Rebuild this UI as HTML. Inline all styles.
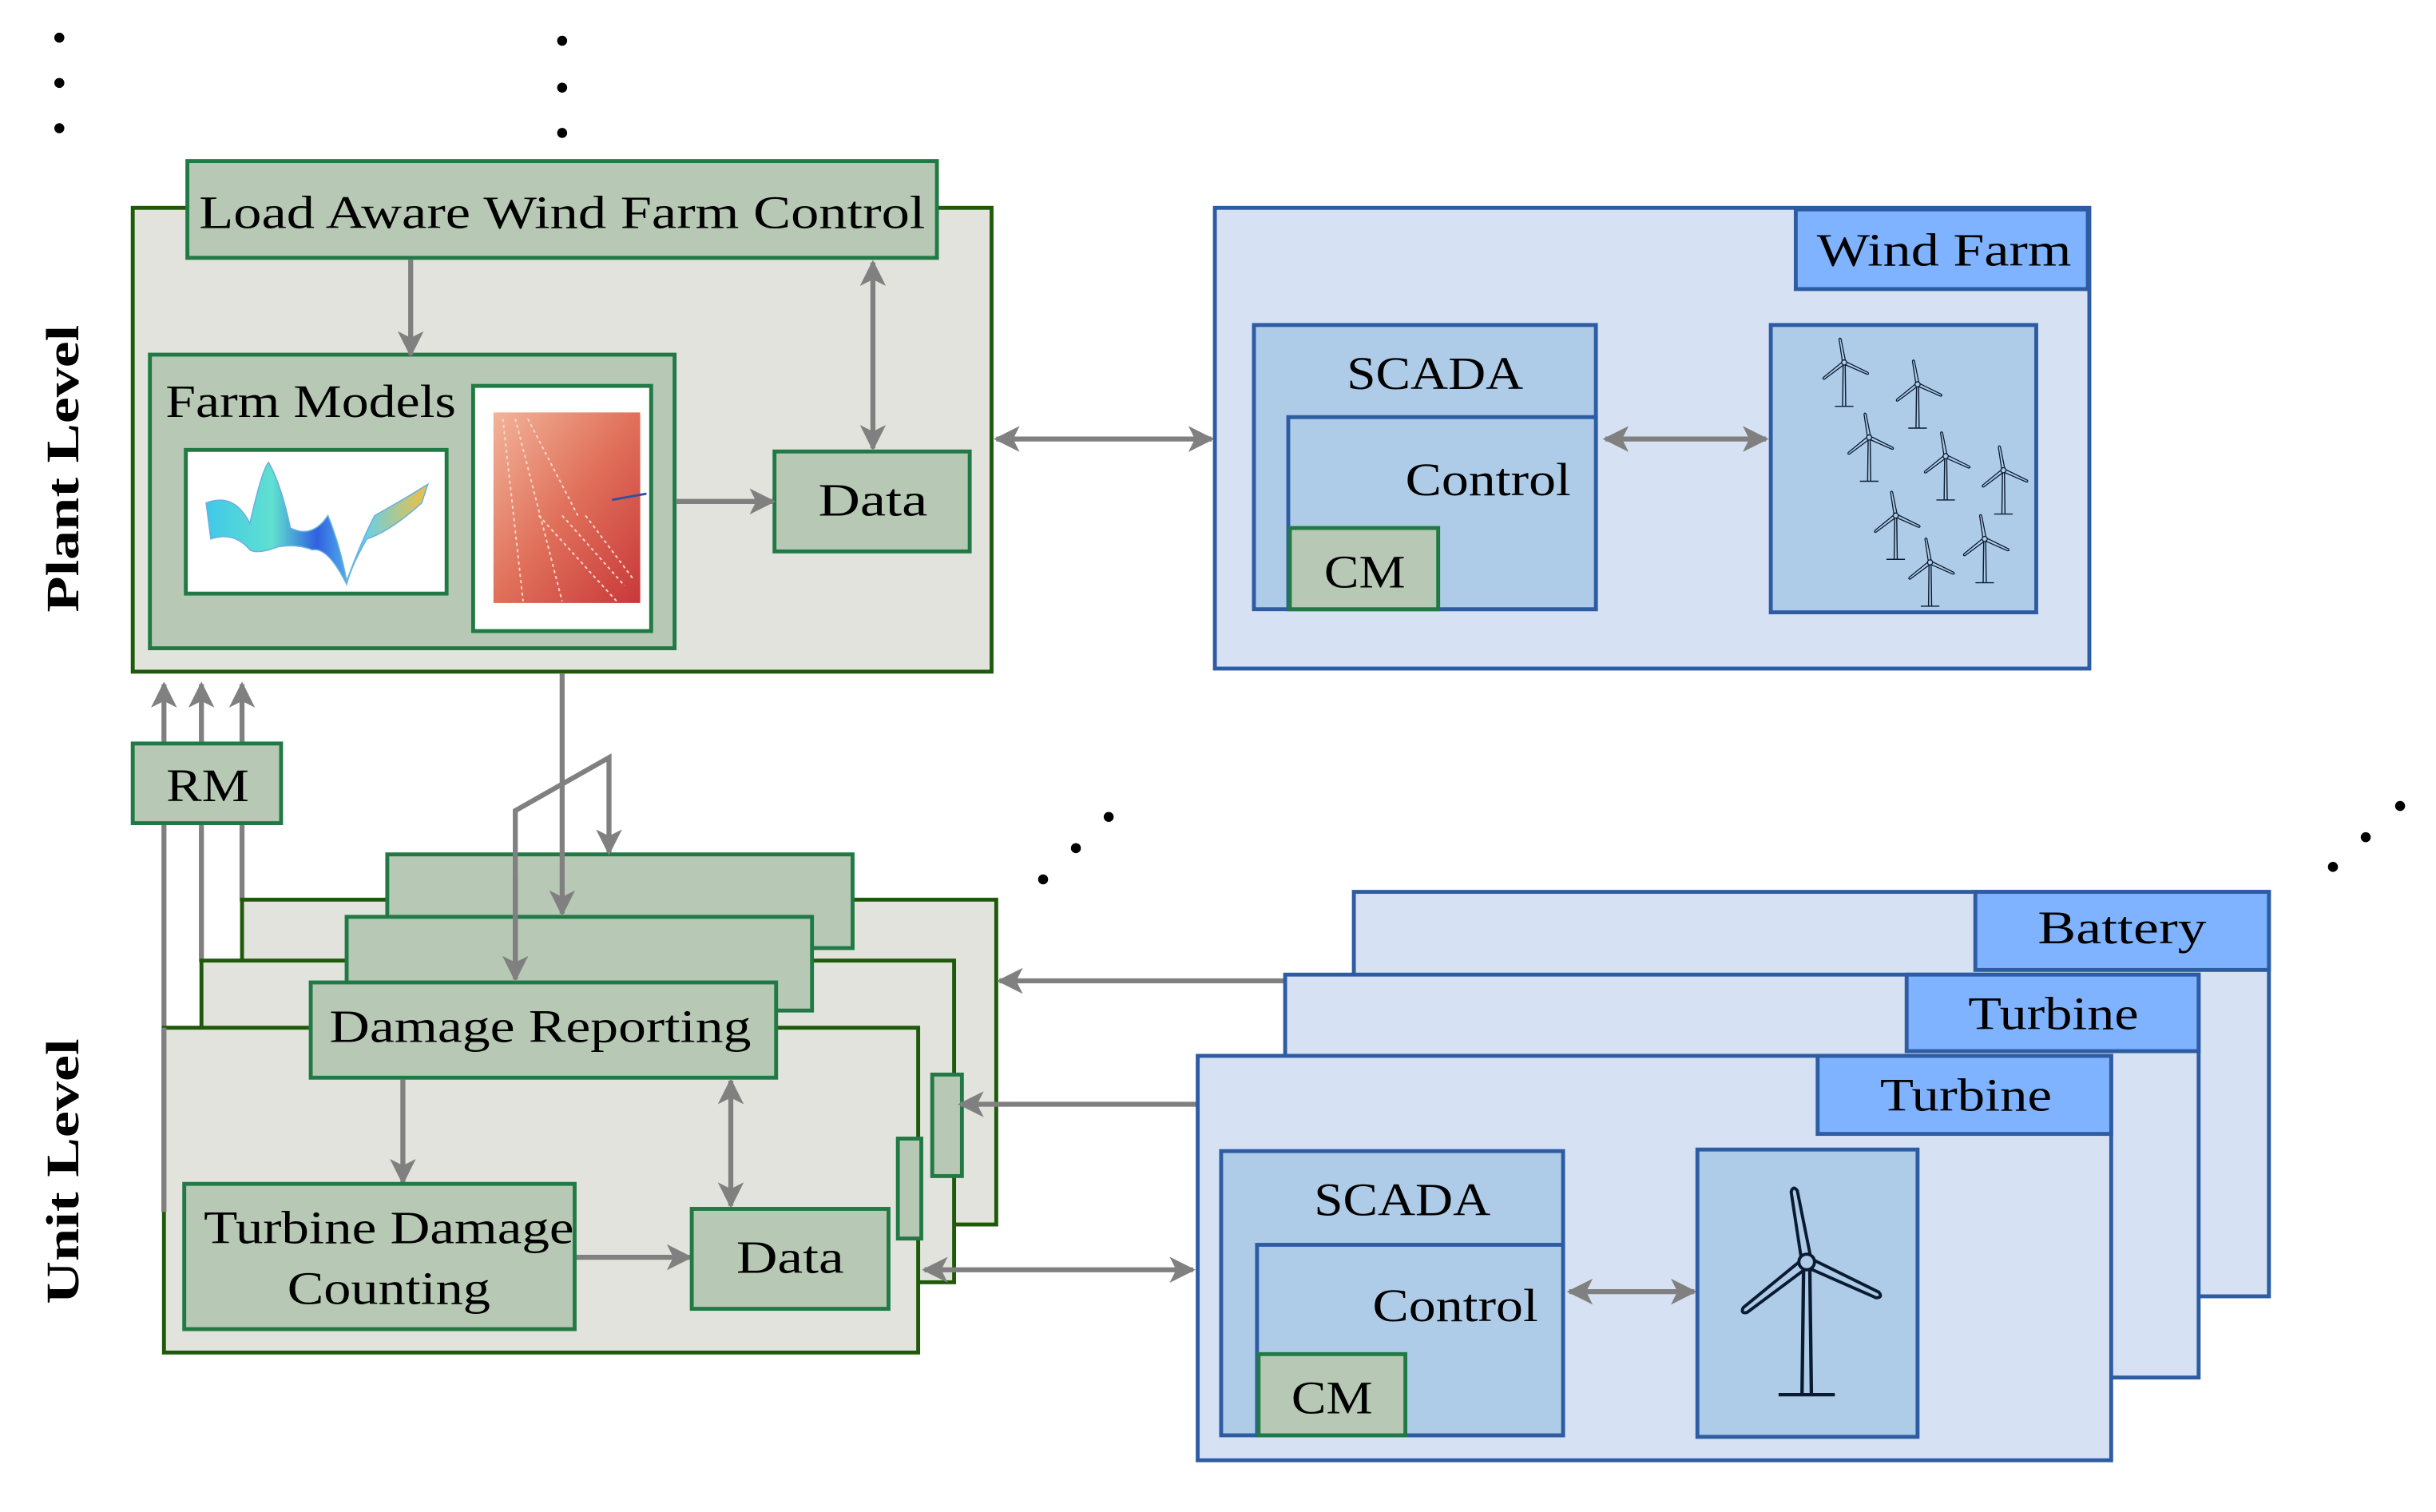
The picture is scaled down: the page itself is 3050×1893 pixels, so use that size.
<!DOCTYPE html>
<html><head><meta charset="utf-8"><style>
html,body{margin:0;padding:0;background:#fff;}
svg{display:block;}
text{font-family:"Liberation Serif",serif;fill:#000;}
</style></head><body>
<svg width="3050" height="1893" viewBox="0 0 1560 968" xmlns="http://www.w3.org/2000/svg">
<defs>
<marker id="ah" viewBox="0 0 10 10" refX="9" refY="5" markerWidth="5.2" markerHeight="5.2" orient="auto-start-reverse">
<path d="M0,0 L10,5 L0,10 L2.5,5 Z" fill="#808080"/></marker>
<linearGradient id="red" x1="0" y1="0" x2="1" y2="1"><stop offset="0" stop-color="#f2b49a"/><stop offset="0.5" stop-color="#e0705a"/><stop offset="1" stop-color="#c8383a"/></linearGradient>
<linearGradient id="surf" x1="0" y1="0" x2="1" y2="0"><stop offset="0" stop-color="#40c8e8"/><stop offset="0.3" stop-color="#60e0d0"/><stop offset="0.5" stop-color="#3060e0"/><stop offset="0.7" stop-color="#60d0f0"/><stop offset="1" stop-color="#f0c040"/></linearGradient>
<g id="tb">
<path d="M-2,5 L-3,85 M2,5 L3,85 M-18,85 L18,85" stroke="#0a1a30" stroke-width="2.2" fill="none"/>
<g fill="#aecce8" stroke="#0a1a30" stroke-width="2">
<path d="M4,-3 L50,-2 Q54,0 50,2 L4,3 Z" transform="rotate(25)"/>
<path d="M4,-3 L46,-2 Q50,0 46,2 L4,3 Z" transform="rotate(-100)"/>
<path d="M4,-3 L50,-2 Q54,0 50,2 L4,3 Z" transform="rotate(142)"/>
</g>
<circle r="5" fill="#aecce8" stroke="#0a1a30" stroke-width="2"/>
</g>
</defs>
<g fill="#000">
<circle cx="38" cy="24" r="3.2"/><circle cx="38" cy="53" r="3.2"/><circle cx="38" cy="82" r="3.2"/>
<circle cx="360" cy="26" r="3.2"/><circle cx="360" cy="56" r="3.2"/><circle cx="360" cy="85" r="3.2"/>
<circle cx="668" cy="563" r="3.2"/><circle cx="689" cy="543" r="3.2"/><circle cx="710" cy="523" r="3.2"/>
<circle cx="1494" cy="555" r="3.2"/><circle cx="1515" cy="536" r="3.2"/><circle cx="1537" cy="516" r="3.2"/>
</g>
<text transform="translate(50,300) rotate(-90)" text-anchor="middle" font-size="30" font-weight="bold" textLength="184" lengthAdjust="spacingAndGlyphs">Plant Level</text>
<text transform="translate(50,750) rotate(-90)" text-anchor="middle" font-size="30" font-weight="bold" textLength="170" lengthAdjust="spacingAndGlyphs">Unit Level</text>

<!-- Plant level -->
<rect x="85" y="133" width="550" height="297" fill="#e1e3dc" stroke="#1f5a0a" stroke-width="2.5"/>
<rect x="120" y="103" width="480" height="62" fill="#b7c9b5" stroke="#217a45" stroke-width="2.5"/>
<text x="360" y="146" text-anchor="middle" font-size="30" textLength="465" lengthAdjust="spacingAndGlyphs">Load Aware Wind Farm Control</text>
<rect x="96" y="227" width="336" height="188" fill="#b7c9b5" stroke="#217a45" stroke-width="2.5"/>
<text x="106" y="267" font-size="30" textLength="186" lengthAdjust="spacingAndGlyphs">Farm Models</text>
<rect x="119" y="288" width="167" height="92" fill="#fff" stroke="#217a45" stroke-width="2.5"/>
<path d="M132,322 Q150,315 160,335 Q168,300 172,296 Q180,310 186,338 Q200,345 210,330 Q218,350 222,372 Q232,345 240,330 Q258,320 274,310 L270,322 Q250,340 235,345 Q225,362 222,374 Q210,350 200,352 Q190,348 178,350 Q165,355 160,352 Q150,340 135,345 Z" fill="url(#surf)" stroke="#6ab0e0" stroke-width="0.8"/>
<rect x="303" y="247" width="114" height="157" fill="#fff" stroke="#217a45" stroke-width="2.5"/>
<rect x="316" y="264" width="94" height="122" fill="url(#red)"/>
<path d="M322,268 L335,385 M330,268 L360,385 M338,268 L370,330 M345,330 L395,385 M360,330 L400,375 M375,330 L405,370" stroke="#f6d6cc" stroke-width="1" stroke-dasharray="2,2" fill="none"/>
<path d="M392,320 L414,316" stroke="#3050a0" stroke-width="1.5"/>
<rect x="496" y="289" width="125" height="64" fill="#b7c9b5" stroke="#217a45" stroke-width="2.5"/>
<text x="559" y="330" text-anchor="middle" font-size="30" textLength="70" lengthAdjust="spacingAndGlyphs">Data</text>
<g stroke="#808080" stroke-width="3.2" fill="none">
<line x1="263" y1="166" x2="263" y2="227" marker-end="url(#ah)"/>
<line x1="559" y1="168" x2="559" y2="287" marker-start="url(#ah)" marker-end="url(#ah)"/>
<line x1="433" y1="321" x2="495" y2="321" marker-end="url(#ah)"/>
<line x1="638" y1="281" x2="776" y2="281" marker-start="url(#ah)" marker-end="url(#ah)"/>
</g>

<!-- Wind farm -->
<rect x="778" y="133" width="560" height="295" fill="#d6e2f3" stroke="#2e5ca3" stroke-width="2.5"/>
<rect x="1150" y="134" width="187" height="51" fill="#7fb3ff" stroke="#2e5ca3" stroke-width="2.5"/>
<text x="1245" y="170" text-anchor="middle" font-size="30" textLength="163" lengthAdjust="spacingAndGlyphs">Wind Farm</text>
<rect x="803" y="208" width="219" height="182" fill="#aecce8" stroke="#2e5ca3" stroke-width="2.5"/>
<text x="919" y="249" text-anchor="middle" font-size="30" textLength="113" lengthAdjust="spacingAndGlyphs">SCADA</text>
<rect x="825" y="267" width="197" height="123" fill="#aecce8" stroke="#2e5ca3" stroke-width="2.5"/>
<text x="1006" y="317" text-anchor="end" font-size="30" textLength="106" lengthAdjust="spacingAndGlyphs">Control</text>
<rect x="826" y="338" width="95" height="52" fill="#b7c9b5" stroke="#217a45" stroke-width="2.5"/>
<text x="874" y="376" text-anchor="middle" font-size="30" textLength="52" lengthAdjust="spacingAndGlyphs">CM</text>
<line x1="1028" y1="281" x2="1131" y2="281" stroke="#808080" stroke-width="3.2" marker-start="url(#ah)" marker-end="url(#ah)"/>
<rect x="1134" y="208" width="170" height="184" fill="#aecce8" stroke="#2e5ca3" stroke-width="2.5"/>
<use href="#tb" transform="translate(1181,232) scale(0.33)"/>
<use href="#tb" transform="translate(1228,246) scale(0.33)"/>
<use href="#tb" transform="translate(1197,280) scale(0.33)"/>
<use href="#tb" transform="translate(1246,292) scale(0.33)"/>
<use href="#tb" transform="translate(1283,301) scale(0.33)"/>
<use href="#tb" transform="translate(1214,330) scale(0.33)"/>
<use href="#tb" transform="translate(1271,345) scale(0.33)"/>
<use href="#tb" transform="translate(1236,360) scale(0.33)"/>

<!-- RM and lines -->
<g stroke="#808080" stroke-width="3.2" fill="none">
<line x1="105" y1="776" x2="105" y2="438" marker-end="url(#ah)"/>
<line x1="129" y1="616" x2="129" y2="438" marker-end="url(#ah)"/>
<line x1="155" y1="577" x2="155" y2="438" marker-end="url(#ah)"/>
</g>
<rect x="85" y="476" width="95" height="51" fill="#b7c9b5" stroke="#217a45" stroke-width="2.5"/>
<text x="133" y="513" text-anchor="middle" font-size="30" textLength="53" lengthAdjust="spacingAndGlyphs">RM</text>

<!-- Unit stacks -->
<rect x="155" y="576" width="483" height="208" fill="#e1e3dc" stroke="#1f5a0a" stroke-width="2.5"/>
<rect x="248" y="547" width="298" height="60" fill="#b7c9b5" stroke="#217a45" stroke-width="2.5"/>
<rect x="129" y="615" width="482" height="206" fill="#e1e3dc" stroke="#1f5a0a" stroke-width="2.5"/>
<rect x="597" y="688" width="19" height="65" fill="#b7c9b5" stroke="#217a45" stroke-width="2.5"/>
<rect x="222" y="587" width="298" height="60" fill="#b7c9b5" stroke="#217a45" stroke-width="2.5"/>
<rect x="105" y="658" width="483" height="208" fill="#e1e3dc" stroke="#1f5a0a" stroke-width="2.5"/>
<rect x="575" y="729" width="15" height="64" fill="#b7c9b5" stroke="#217a45" stroke-width="2.5"/>
<line x1="105" y1="658" x2="105" y2="776" stroke="#808080" stroke-width="3.2"/>
<rect x="199" y="629" width="298" height="61" fill="#b7c9b5" stroke="#217a45" stroke-width="2.5"/>
<text x="346" y="667" text-anchor="middle" font-size="30" textLength="270" lengthAdjust="spacingAndGlyphs">Damage Reporting</text>
<g stroke="#808080" stroke-width="3.2" fill="none">
<line x1="360" y1="431" x2="360" y2="585" marker-end="url(#ah)"/>
<polyline points="330,627 330,519 390,485 390,546" marker-end="url(#ah)"/>
<line x1="330" y1="560" x2="330" y2="627" marker-end="url(#ah)"/>
<line x1="258" y1="691" x2="258" y2="757" marker-end="url(#ah)"/>
<line x1="468" y1="692" x2="468" y2="772" marker-start="url(#ah)" marker-end="url(#ah)"/>
<line x1="369" y1="805" x2="442" y2="805" marker-end="url(#ah)"/>
<line x1="592" y1="813" x2="764" y2="813" marker-start="url(#ah)" marker-end="url(#ah)"/>
<line x1="866" y1="628" x2="640" y2="628" marker-end="url(#ah)"/>
<line x1="767" y1="707" x2="615" y2="707" marker-end="url(#ah)"/>
</g>
<rect x="118" y="758" width="250" height="93" fill="#b7c9b5" stroke="#217a45" stroke-width="2.5"/>
<text x="249" y="796" text-anchor="middle" font-size="30" textLength="237" lengthAdjust="spacingAndGlyphs">Turbine Damage</text>
<text x="249" y="835" text-anchor="middle" font-size="30" textLength="130" lengthAdjust="spacingAndGlyphs">Counting</text>
<rect x="443" y="774" width="126" height="64" fill="#b7c9b5" stroke="#217a45" stroke-width="2.5"/>
<text x="506" y="815" text-anchor="middle" font-size="30" textLength="69" lengthAdjust="spacingAndGlyphs">Data</text>

<!-- Right unit stack -->
<rect x="867" y="571" width="586" height="259" fill="#d6e2f3" stroke="#2e5ca3" stroke-width="2.5"/>
<rect x="1265" y="571" width="188" height="50" fill="#7fb3ff" stroke="#2e5ca3" stroke-width="2.5"/>
<text x="1359" y="604" text-anchor="middle" font-size="30" textLength="108" lengthAdjust="spacingAndGlyphs">Battery</text>
<rect x="823" y="624" width="585" height="258" fill="#d6e2f3" stroke="#2e5ca3" stroke-width="2.5"/>
<rect x="1221" y="624" width="187" height="49" fill="#7fb3ff" stroke="#2e5ca3" stroke-width="2.5"/>
<text x="1315" y="659" text-anchor="middle" font-size="30" textLength="109" lengthAdjust="spacingAndGlyphs">Turbine</text>
<rect x="767" y="676" width="585" height="259" fill="#d6e2f3" stroke="#2e5ca3" stroke-width="2.5"/>
<rect x="1164" y="676" width="188" height="50" fill="#7fb3ff" stroke="#2e5ca3" stroke-width="2.5"/>
<text x="1259" y="711" text-anchor="middle" font-size="30" textLength="110" lengthAdjust="spacingAndGlyphs">Turbine</text>
<rect x="782" y="737" width="219" height="182" fill="#aecce8" stroke="#2e5ca3" stroke-width="2.5"/>
<text x="898" y="778" text-anchor="middle" font-size="30" textLength="113" lengthAdjust="spacingAndGlyphs">SCADA</text>
<rect x="805" y="797" width="196" height="122" fill="#aecce8" stroke="#2e5ca3" stroke-width="2.5"/>
<text x="985" y="846" text-anchor="end" font-size="30" textLength="106" lengthAdjust="spacingAndGlyphs">Control</text>
<rect x="806" y="867" width="94" height="52" fill="#b7c9b5" stroke="#217a45" stroke-width="2.5"/>
<text x="853" y="905" text-anchor="middle" font-size="30" textLength="52" lengthAdjust="spacingAndGlyphs">CM</text>
<line x1="1005" y1="827" x2="1085" y2="827" stroke="#808080" stroke-width="3.2" marker-start="url(#ah)" marker-end="url(#ah)"/>
<rect x="1087" y="736" width="141" height="184" fill="#aecce8" stroke="#2e5ca3" stroke-width="2.5"/>
<use href="#tb" transform="translate(1157,808) scale(1)"/>
</svg>
</body></html>
